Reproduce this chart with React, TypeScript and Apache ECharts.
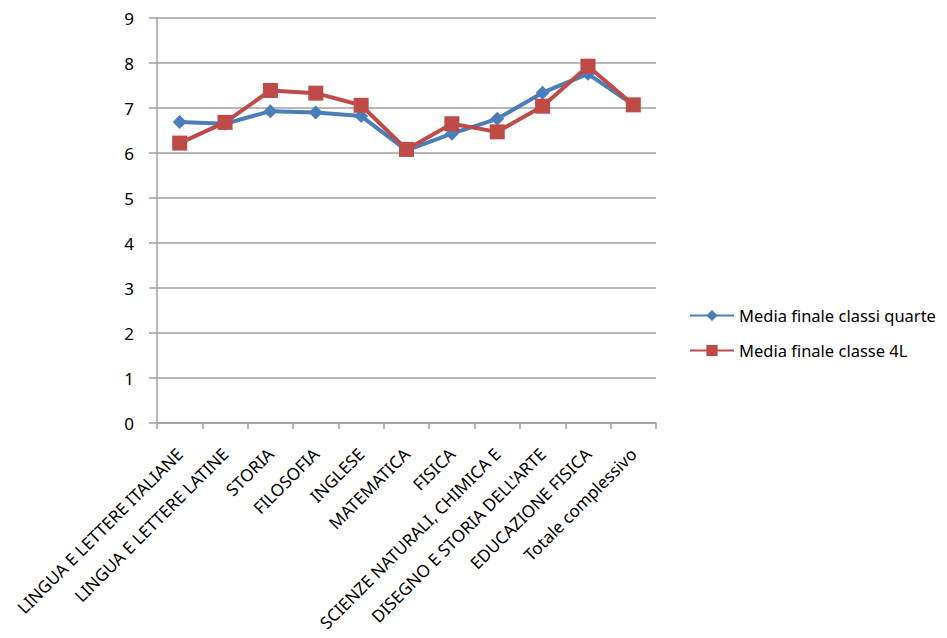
import React, { useEffect, useRef } from "react";
import * as echarts from "echarts";

const categories = [
  "LINGUA E LETTERE ITALIANE",
  "LINGUA E LETTERE LATINE",
  "STORIA",
  "FILOSOFIA",
  "INGLESE",
  "MATEMATICA",
  "FISICA",
  "SCIENZE NATURALI, CHIMICA E",
  "DISEGNO E STORIA DELL'ARTE",
  "EDUCAZIONE FISICA",
  "Totale complessivo",
];

const classiQuarte = [6.69, 6.65, 6.93, 6.9, 6.82, 6.06, 6.43, 6.76, 7.34, 7.76, 7.07];
const classe4L = [6.22, 6.68, 7.39, 7.33, 7.06, 6.08, 6.65, 6.47, 7.04, 7.93, 7.07];

const yTicks = { min: 0, max: 9, interval: 1 };

const FONT = "'Noto Sans', sans-serif";
const AXIS_GREY = "#a0a0a0";

export default function App() {
  const ref = useRef<HTMLDivElement>(null);

  useEffect(() => {
    if (!ref.current) return;
    const chart = echarts.init(ref.current, undefined, { renderer: "svg" });
    chart.setOption({
      animation: false,
      backgroundColor: "#ffffff",
      textStyle: { fontFamily: FONT },
      grid: { left: 157, right: 291, top: 18, bottom: 215 },
      legend: {
        orient: "vertical",
        left: 684,
        top: 302,
        itemWidth: 44,
        itemHeight: 14,
        itemGap: 18,
        textStyle: { fontFamily: FONT, fontSize: 16.5, color: "#000" },
        data: ["Media finale classi quarte", "Media finale classe 4L"],
      },
      xAxis: {
        type: "category",
        data: categories,
        boundaryGap: true,
        axisLine: { lineStyle: { color: AXIS_GREY, width: 1.5 } },
        axisTick: { show: true, length: 6, lineStyle: { color: AXIS_GREY, width: 1.5 } },
        axisLabel: {
          rotate: 45,
          interval: 0,
          margin: 28,
          fontFamily: FONT,
          fontSize: 17,
          color: "#000",
        },
        splitLine: { show: false },
      },
      yAxis: {
        type: "value",
        min: yTicks.min,
        max: yTicks.max,
        interval: yTicks.interval,
        axisLine: { show: true, lineStyle: { color: AXIS_GREY, width: 1.5 } },
        axisTick: { show: true, length: 8, lineStyle: { color: AXIS_GREY, width: 1.5 } },
        axisLabel: { fontFamily: FONT, fontSize: 17, color: "#000", margin: 23 },
        splitLine: { show: true, lineStyle: { color: AXIS_GREY, width: 1.5 } },
      },
      series: [
        {
          name: "Media finale classi quarte",
          type: "line",
          data: classiQuarte,
          symbol: "diamond",
          symbolSize: 14,
          lineStyle: { color: "#4A7EBB", width: 4 },
          itemStyle: { color: "#4A7EBB" },
          z: 2,
        },
        {
          name: "Media finale classe 4L",
          type: "line",
          data: classe4L,
          symbol: "rect",
          symbolSize: 15,
          lineStyle: { color: "#BE4B48", width: 4 },
          itemStyle: { color: "#BE4B48" },
          z: 3,
        },
      ],
    });
    return () => chart.dispose();
  }, []);

  return <div ref={ref} style={{ width: 947, height: 638, marginTop: -8, marginLeft: -8 }} />;
}
